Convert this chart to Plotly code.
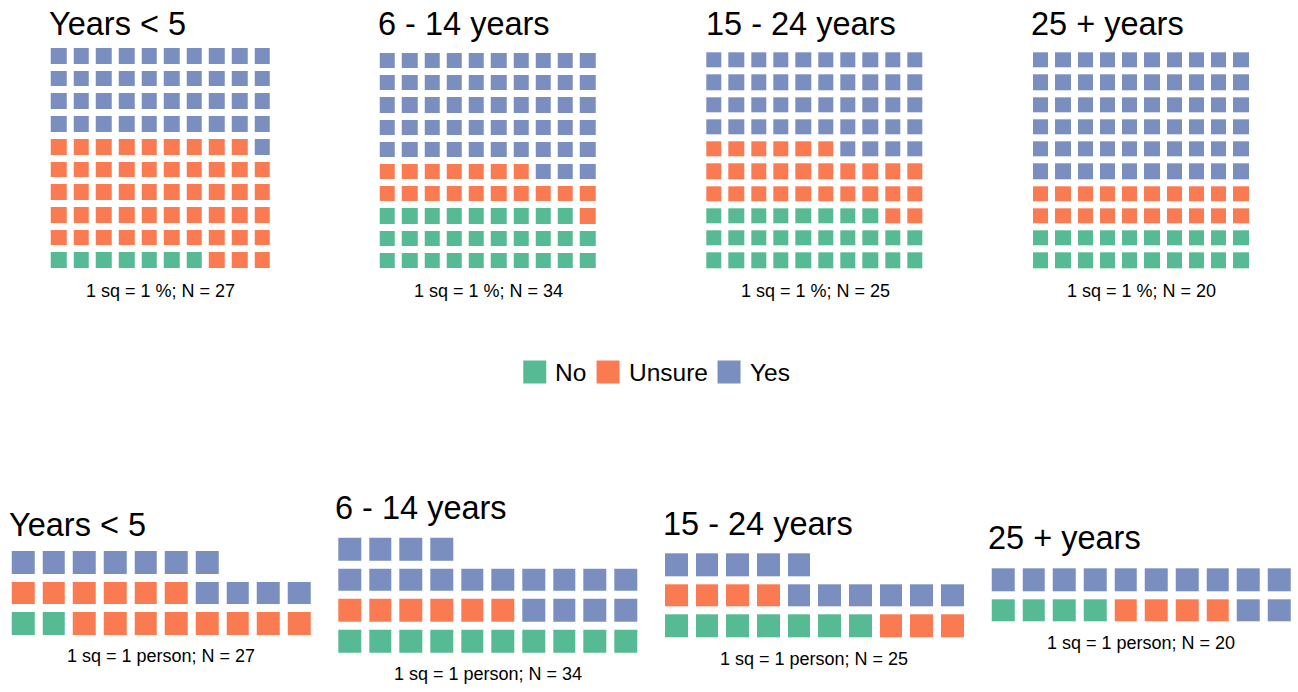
import math
import plotly.graph_objects as go

# ---------------- data ----------------
groups = ["Years < 5", "6 - 14 years", "15 - 24 years", "25 + years"]
responses = ["No", "Unsure", "Yes"]
# people counts (1 sq = 1 person)
count_no = [2, 10, 7, 4]
count_unsure = [14, 6, 7, 4]
count_yes = [11, 18, 11, 12]
# percentages (1 sq = 1 %)
pct_no = [7, 29, 28, 20]
pct_unsure = [52, 18, 28, 20]
pct_yes = [41, 53, 44, 60]
n_total = [27, 34, 25, 20]
ncols = 10

colors = ["#56BA94", "#FA7B51", "#7A8EC0"]
FONT = "Liberation Sans, Arial, sans-serif"
W, H = 1298, 692

# ---------------- layout (pixel boxes) ----------------
top_boxes = [(47.7, 274.0, 45.0, 272.0), (376.7, 599.3, 50.0, 272.0),
             (703.3, 926.7, 49.3, 272.0), (1030.0, 1252.7, 49.3, 272.0)]
top_title_pos = [(48, 34), (376.5, 34), (704.5, 34), (1030, 34)]
top_caption_y = 296.5

bot_cell = 30.65
bot_left = [7.7, 334.3, 661.0, 987.7]
bot_top = [547.0, 533.7, 549.3, 564.3]
bot_title_pos = [(8, 535), (334, 517.5), (662.3, 533.5), (987.3, 547.5)]
bot_caption_gap = 26.7

TITLE_SIZE = 32.5
CAP_SIZE = 18
LEG_SIZE = 24.5


def grid(vals):
    cells = []
    for k, v in enumerate(vals):
        cells += [k] * v
    rows = math.ceil(len(cells) / ncols)
    z = [[None] * ncols for _ in range(rows)]
    for i, c in enumerate(cells):
        z[i // ncols][i % ncols] = c
    return z, rows


def xd(a, b):
    return [a / W, b / W]


def yd(a, b):
    return [1 - b / H, 1 - a / H]


fig = go.Figure()
annotations = []
cscale = [[0, colors[0]], [0.5, colors[1]], [1, colors[2]]]
axis_common = dict(showgrid=False, zeroline=False, showticklabels=False,
                   showline=False, ticks="", fixedrange=True)


def add_panel(idx, z, rows, xdom, ydom, gap):
    xa = "x" if idx == 1 else f"x{idx}"
    ya = "y" if idx == 1 else f"y{idx}"
    fig.add_trace(go.Heatmap(z=z, x=list(range(ncols)), y=list(range(rows)),
                             colorscale=cscale, zmin=0, zmax=2, showscale=False,
                             xgap=gap, ygap=gap, hoverinfo="skip",
                             xaxis=xa, yaxis=ya))
    fig.layout[f"xaxis{'' if idx == 1 else idx}"] = dict(
        domain=xdom, range=[-0.5, ncols - 0.5], anchor=ya, **axis_common)
    fig.layout[f"yaxis{'' if idx == 1 else idx}"] = dict(
        domain=ydom, range=[-0.5, rows - 0.5], anchor=xa, **axis_common)


def text_ann(text, xpx, baseline, size, xanchor):
    annotations.append(dict(text=text, x=xpx / W, y=1 - (baseline - 0.3 * size) / H,
                            xref="paper", yref="paper", xanchor=xanchor,
                            yanchor="middle", showarrow=False, borderpad=0,
                            font=dict(family=FONT, size=size, color="black")))


# top row: percentages
for i in range(4):
    z, rows = grid([pct_no[i], pct_unsure[i], pct_yes[i]])
    x0, x1, y0, y1 = top_boxes[i]
    add_panel(i + 1, z, rows, xd(x0, x1), yd(y0, y1), 7)
    text_ann(groups[i], top_title_pos[i][0], top_title_pos[i][1], TITLE_SIZE, "left")
    text_ann(f"1 sq = 1 %; N = {n_total[i]}", (x0 + x1) / 2, top_caption_y, CAP_SIZE, "center")

# bottom row: people
for i in range(4):
    z, rows = grid([count_no[i], count_unsure[i], count_yes[i]])
    x0 = bot_left[i]
    x1 = x0 + ncols * bot_cell
    y0 = bot_top[i]
    y1 = y0 + rows * bot_cell
    add_panel(i + 5, z, rows, xd(x0, x1), yd(y0, y1), 8)
    text_ann(groups[i], bot_title_pos[i][0], bot_title_pos[i][1], TITLE_SIZE, "left")
    text_ann(f"1 sq = 1 person; N = {n_total[i]}", (x0 + x1) / 2,
             y1 - 4 + bot_caption_gap, CAP_SIZE, "center")

# legend (custom, built from response categories)
arial_w = {"N": .722, "o": .556, "U": .722, "n": .556, "s": .5, "u": .556,
           "r": .333, "e": .556, "Y": .667}
sq, pad_in, pad_out = 23, 9, 10
widths = [sum(arial_w.get(ch, .556) for ch in r) * LEG_SIZE for r in responses]
total = sum(sq + pad_in + w for w in widths) + pad_out * (len(responses) - 1)
leg_center, leg_y = 657.5, 372
cur = leg_center - total / 2
xs = []
for w in widths:
    xs.append(cur)
    cur += sq + pad_in + w + pad_out
fig.add_trace(go.Scatter(x=[x + sq / 2 for x in xs], y=[0.5] * 3, mode="markers",
                         marker=dict(symbol="square", size=sq, color=colors,
                                     line=dict(width=0)),
                         hoverinfo="skip", xaxis="x9", yaxis="y9"))
for x, r in zip(xs, responses):
    annotations.append(dict(text=r, x=x + sq + pad_in - 1, y=0.5, xref="x9", yref="y9",
                            xanchor="left", yanchor="middle", showarrow=False,
                            borderpad=0,
                            font=dict(family=FONT, size=LEG_SIZE, color="black")))
fig.layout["xaxis9"] = dict(domain=[0, 1], range=[0, W], anchor="y9", **axis_common)
fig.layout["yaxis9"] = dict(domain=yd(leg_y - 15, leg_y + 15), range=[0, 1],
                            anchor="x9", **axis_common)

fig.update_layout(width=W, height=H, margin=dict(l=0, r=0, t=0, b=0),
                  paper_bgcolor="white", plot_bgcolor="rgba(0,0,0,0)",
                  showlegend=False, annotations=annotations,
                  font=dict(family=FONT))
fig.write_html("out.html", config={"displayModeBar": False},
               post_script="document.body.style.margin='0';document.body.style.overflow='hidden';")
